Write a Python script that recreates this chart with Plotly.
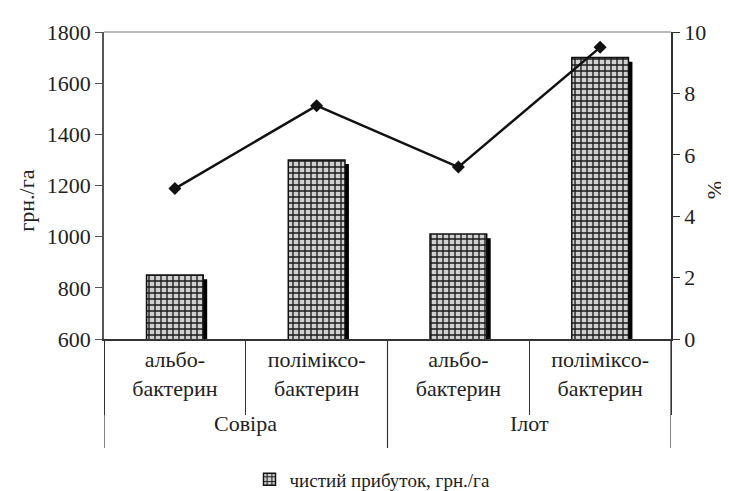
import plotly.graph_objects as go

groups = ["Совіра", "Совіра", "Ілот", "Ілот"]
subcats = ["альбо-<br>бактерин", "поліміксо-<br>бактерин", "альбо-<br>бактерин", "поліміксо-<br>бактерин"]
profit = [850, 1300, 1010, 1700]
percent = [4.9, 7.6, 5.6, 9.5]
y_ticks = [600, 800, 1000, 1200, 1400, 1600, 1800]
y2_ticks = [0, 2, 4, 6, 8, 10]
series_name = "чистий прибуток, грн./га"

FONT = "Liberation Serif"
FS = 22
BW = 0.4
SHADOW_DX = 0.028
SHADOW_DY = 16

pos = list(range(len(subcats)))

# group structure -> label centres and boundaries
group_names = []
for g in groups:
    if g not in group_names:
        group_names.append(g)
group_centers = [sum(i for i, g in enumerate(groups) if g == n) / groups.count(n) for n in group_names]
boundaries = [-0.5] + [i + 0.5 for i in range(len(groups) - 1) if groups[i] != groups[i + 1]] + [len(groups) - 0.5]

fig = go.Figure()
# shadow bars
fig.add_trace(go.Bar(
    x=pos, y=[v - SHADOW_DY for v in profit],
    width=BW, offset=-BW / 2 + SHADOW_DX,
    marker=dict(color="#000000", line=dict(width=0)),
    showlegend=False, hoverinfo="skip",
))
# main bars
fig.add_trace(go.Bar(
    x=pos, y=profit, name=series_name,
    width=BW, offset=-BW / 2,
    marker=dict(color="#d0d0d0",
                line=dict(color="#111111", width=1.5),
                pattern=dict(shape="+", fgcolor="#1a1a1a", bgcolor="#d0d0d0",
                             size=6, solidity=0.4, fillmode="replace")),
))
fig.add_trace(go.Scatter(
    x=pos, y=percent, yaxis="y2", mode="lines+markers",
    line=dict(color="#111111", width=2.5),
    marker=dict(symbol="diamond", size=10, color="#111111"),
    showlegend=False,
))

annotations = [dict(text=n, x=c, xref="x", y=-0.275, yref="paper", showarrow=False,
                    yanchor="middle", font=dict(family=FONT, size=FS, color="#222222"))
               for n, c in zip(group_names, group_centers)]
annotations += [
    dict(text="грн./га", x=-0.136, xref="paper", y=0.45, yref="paper", textangle=-90,
         showarrow=False, xanchor="center", yanchor="middle",
         font=dict(family=FONT, size=FS, color="#222222")),
    dict(text="%", x=1.076, xref="paper", y=0.485, yref="paper", textangle=-90,
         showarrow=False, xanchor="center", yanchor="middle",
         font=dict(family=FONT, size=FS, color="#222222")),
]

shapes = [dict(type="line", xref="x", yref="paper", x0=b, x1=b, y0=0, y1=-0.355,
               line=dict(color="#333333", width=1.2)) for b in boundaries]
shapes.append(dict(type="line", xref="paper", yref="paper", x0=0, x1=1, y0=1, y1=1,
                   line=dict(color="#bbbbbb", width=2)))

fig.update_layout(
    width=729, height=491,
    margin=dict(l=96, r=66, t=24, b=160),
    paper_bgcolor="white", plot_bgcolor="white",
    barmode="overlay",
    font=dict(family=FONT, size=FS, color="#222222"),
    xaxis=dict(
        range=[-0.5, len(pos) - 0.5], automargin=False,
        tickvals=pos, ticktext=subcats, ticks="",
        showline=True, linecolor="#333333", linewidth=1.5,
        minor=dict(tick0=-0.5, dtick=1, ticks="outside", ticklen=74, tickcolor="#333333",
                   tickwidth=1.2, showgrid=False),
        showgrid=False, zeroline=False,
        tickfont=dict(family=FONT, size=FS, color="#222222"),
    ),
    yaxis=dict(
        range=[600, 1800], tickvals=y_ticks, automargin=False,
        showline=True, linecolor="#555555", linewidth=1.5,
        ticks="outside", ticklen=7, tickcolor="#555555",
        showgrid=False, zeroline=False,
        tickfont=dict(family=FONT, size=FS, color="#222222"),
    ),
    yaxis2=dict(
        range=[0, 10], tickvals=y2_ticks, overlaying="y", side="right", automargin=False,
        showline=True, linecolor="#333333", linewidth=1.5,
        ticks="outside", ticklen=7, tickcolor="#333333",
        showgrid=False, zeroline=False,
        tickfont=dict(family=FONT, size=FS, color="#222222"),
    ),
    legend=dict(orientation="h", x=0.5, xanchor="center", xref="container",
                y=0.04, yanchor="middle", yref="container",
                font=dict(family=FONT, size=19, color="#222222")),
    annotations=annotations,
    shapes=shapes,
)

fig.write_html("out.html")
